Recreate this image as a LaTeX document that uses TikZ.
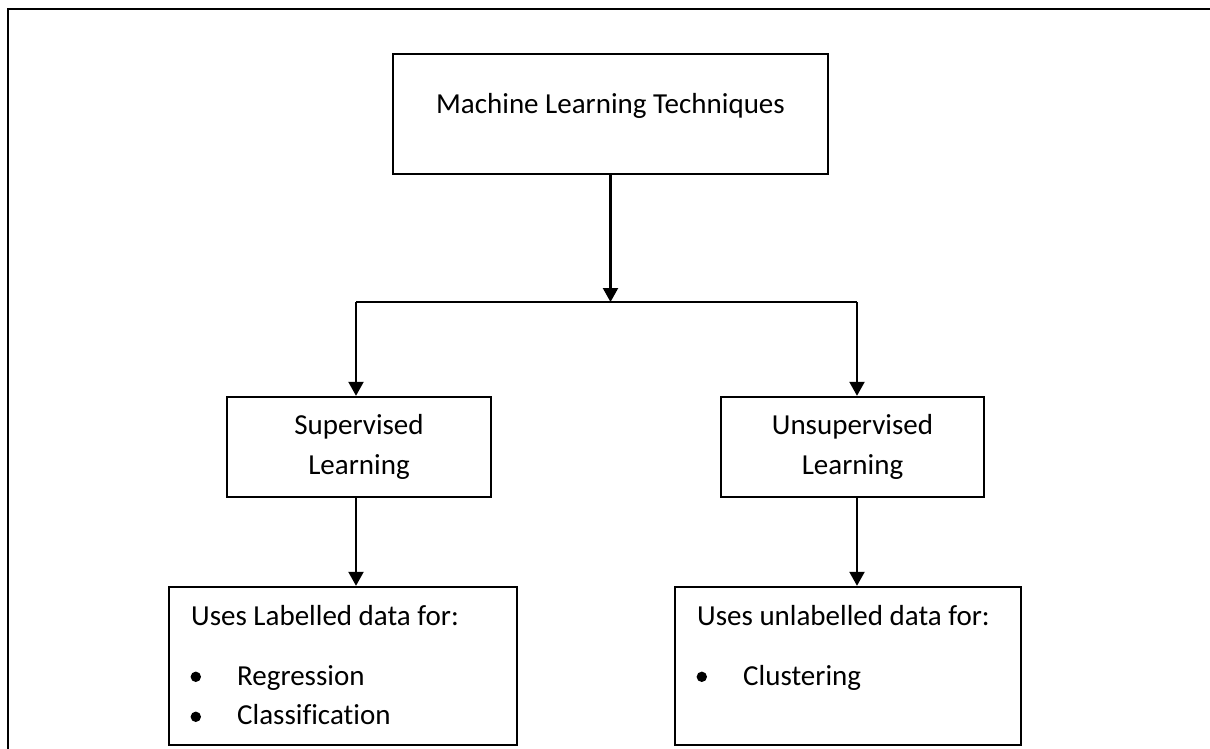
\documentclass[tikz,border=0pt]{standalone}
\usepackage{fontspec}
\setmainfont[Ligatures=CommonOff]{Carlito}
\usetikzlibrary{arrows.meta,positioning,calc}
\definecolor{ink}{RGB}{0,0,0}
\tikzset{
  box/.style={draw=ink, line width=1.2pt, inner sep=0pt,
              font=\fontsize{14.5}{20}\selectfont, align=center},
  txt/.style={inner sep=0pt, font=\fontsize{14.5}{20}\selectfont,
              anchor=base west, text=ink},
  dot/.style={circle, fill=ink, inner sep=0pt, minimum size=5.2pt},
  flow/.style={-{Triangle[length=7pt,width=7.5pt]}, ink, line width=1.1pt},
  branch/.style={ink, line width=0.7pt},
}

\begin{document}
\begin{tikzpicture}[x=0.5pt, y=-0.5pt]
        \useasboundingbox (0,0) rectangle (1210,749);
        % ===================== page frame =====================
        \draw[ink, line width=1.2pt] (1210,9) -- (8,9) -- (8,749);
        % ===================== boxes =====================
        \node[box, minimum width=217.5pt, minimum height=60pt, text depth=11pt] (mlt) at (610.5,114) {Machine Learning Techniques};
        \node[box, minimum width=132pt, minimum height=50pt] (sup) at (359,447) {Supervised\\Learning};
        \node[box, minimum width=131.5pt, minimum height=50pt] (unsup) at (852.5,447) {Unsupervised\\Learning};
        \node[box, minimum width=174pt, minimum height=79pt] (lab) at (343,666) {};
        \node[box, minimum width=173pt, minimum height=79pt] (unlab) at (848,666) {};
        % ===================== box texts =====================
        \node[txt] (labhead) at ($(lab.north west)+(23,40)$) {Uses Labelled data for:};
        \node[dot] (labdot1) at ($(lab.north west)+(28,91)$) {};
        \node[txt] (labitem1) at ($(lab.north west)+(69,100)$) {Regression};
        \node[dot] (labdot2) at ($(lab.north west)+(28,131)$) {};
        \node[txt] (labitem2) at ($(lab.north west)+(69,139)$) {Classification};
        \node[txt] (unlabhead) at ($(unlab.north west)+(23,40)$) {Uses unlabelled data for:};
        \node[dot] (unlabdot1) at ($(unlab.north west)+(28,91)$) {};
        \node[txt] (unlabitem1) at ($(unlab.north west)+(69,100)$) {Clustering};
        % ===================== connectors =====================
        \coordinate (split) at (mlt.south |- 0,302);
        \coordinate (lsplit) at (356,302);
        \coordinate (rsplit) at (857,302);
        \draw[flow] (mlt.south) -- (split);
        \draw[branch] (lsplit) -- (rsplit);
        \draw[flow] (lsplit) -- (lsplit |- sup.north);
        \draw[flow] (rsplit) -- (rsplit |- unsup.north);
        \draw[flow] (lsplit |- sup.south) -- (lsplit |- lab.north);
        \draw[flow] (rsplit |- unsup.south) -- (rsplit |- unlab.north);
\end{tikzpicture}
\end{document}
